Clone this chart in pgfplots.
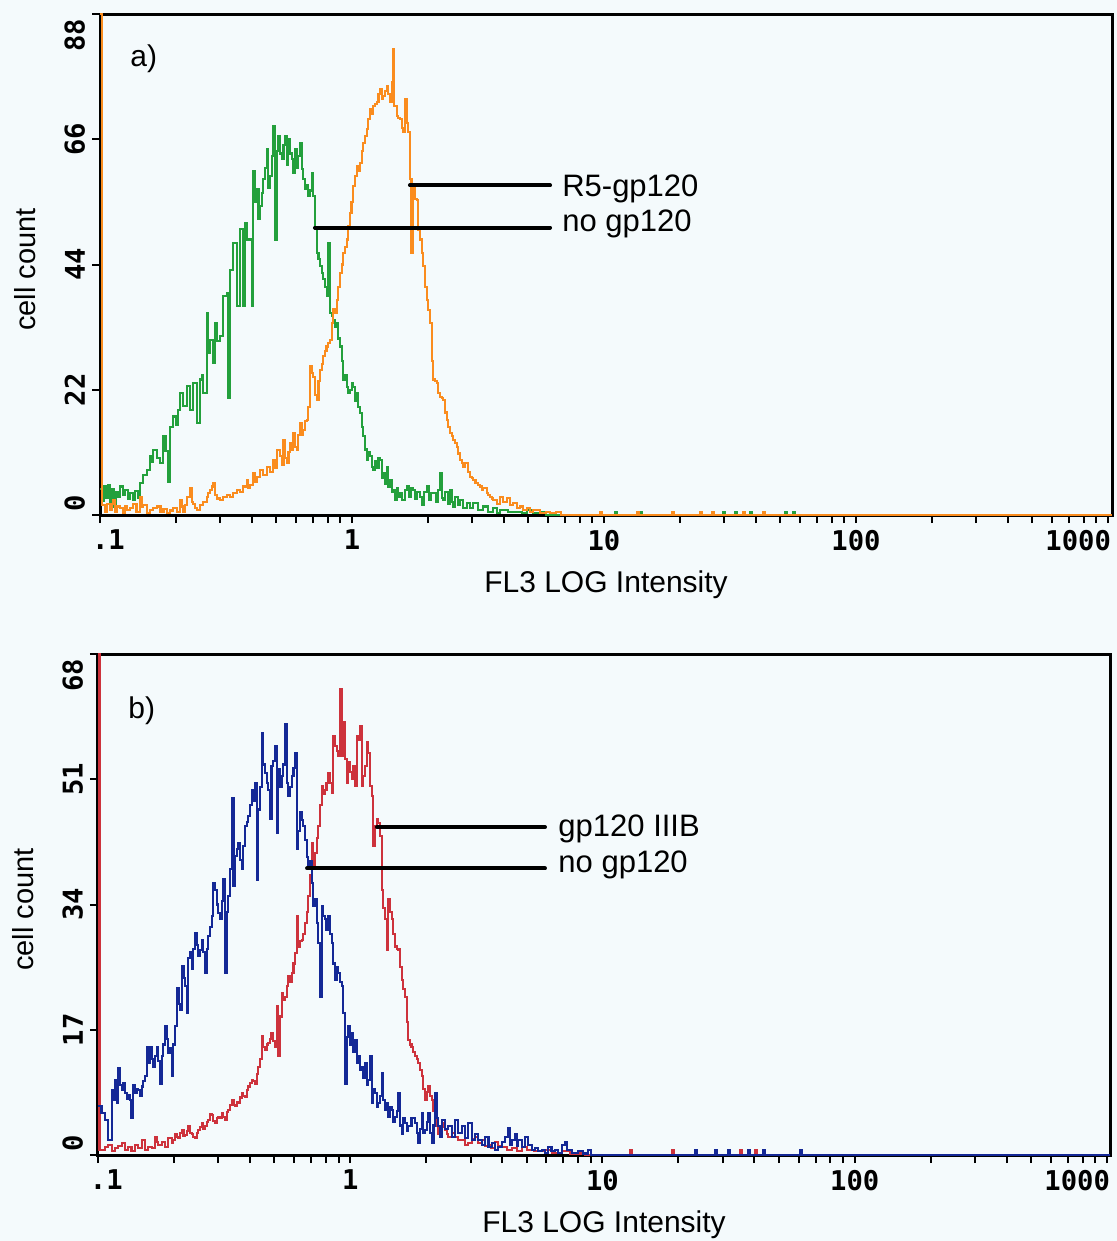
\documentclass[border=0pt]{standalone}
\usepackage{pgfplots}
\pgfplotsset{compat=1.18}
\usepackage{fontspec}
\setmainfont{Liberation Sans}
\newfontfamily\tickfont{DejaVu Sans Mono}
\definecolor{bg}{RGB}{244,250,252}
\definecolor{cgreen}{RGB}{35,160,60}
\definecolor{corange}{RGB}{250,140,30}
\definecolor{cblue}{RGB}{20,40,150}
\definecolor{cred}{RGB}{205,50,60}
\tikzset{
  annot/.style={font=\fontsize{15.5}{17}\selectfont, anchor=base west, inner sep=0pt},
  plab/.style={font=\fontsize{15}{16}\selectfont, anchor=base west, inner sep=0pt},
}
\pgfplotsset{flow/.style={
  scale only axis, width=506pt, height=250.5pt,
  xmin=-1, ymin=0, clip=false,
  axis line style={line width=1.5pt, black},
  xtick={-1,0,1,2,3},
  xticklabels={{\makebox[0pt][l]{\kern-4pt.1}},1,10,100,{\makebox[0pt][r]{1000\kern-1.5pt}}},
  minor xtick={-0.699,-0.523,-0.398,-0.301,-0.222,-0.155,-0.097,-0.046,
    0.301,0.477,0.602,0.699,0.778,0.845,0.903,0.954,
    1.301,1.477,1.602,1.699,1.778,1.845,1.903,1.954,
    2.301,2.477,2.602,2.699,2.778,2.845,2.903,2.954},
  xtick pos=bottom, ytick pos=left,
  tick align=outside, major tick length=4pt, minor tick length=4pt,
  tick style={line width=1pt, black},
  tick label style={font=\tickfont\bfseries\fontsize{13.6}{14}\selectfont},
  yticklabel style={rotate=90, anchor=south},
  xlabel={FL3 LOG Intensity},
  ylabel={cell count},
  xlabel style={font=\fontsize{15}{17}\selectfont, at={(axis description cs:0.5,-0.154)}, anchor=base},
  ylabel style={font=\fontsize{14.5}{16}\selectfont, at={(axis description cs:-0.074,0.49)}, anchor=center},
  every axis plot/.append style={const plot, no markers, line width=1.05pt},
}}
\begin{document}
\begin{tikzpicture}
\useasboundingbox (0pt,0pt) rectangle (558.5pt,-620.5pt);
\fill[bg] (0pt,0pt) rectangle (558.5pt,-620.5pt);
% ---------------- panel a ----------------
\begin{axis}[flow, at={(50pt,-257.5pt)}, anchor=south west, xmax=3.016, ymax=88,
  ytick={0,22,44,66,88},
  yticklabels={{\makebox[0pt][l]{\kern2pt 0}},22,44,66,{\makebox[0pt][r]{88\kern2.5pt}}}]
% no gp120 (green)
\addplot[cgreen] coordinates {(-1.000,4.5)(-0.992,2.5)(-0.984,5.0)(-0.976,3.0)(-0.968,5.2)(-0.960,2.0)(-0.952,4.6)(-0.944,1.5)(-0.936,4.0)(-0.928,3.2)(-0.920,5.0)(-0.910,3.5)(-0.900,4.4)(-0.890,2.8)(-0.880,3.8)(-0.870,2.6)(-0.860,4.2)(-0.850,3.0)(-0.841,5.6)(-0.828,7.0)(-0.815,7.9)(-0.802,10.3)(-0.795,9.4)(-0.788,11.4)(-0.775,10.0)(-0.762,9.1)(-0.749,13.8)(-0.740,11.2)(-0.729,5.8)(-0.722,15.5)(-0.709,17.3)(-0.700,15.9)(-0.690,18.5)(-0.683,21.4)(-0.669,19.1)(-0.656,22.6)(-0.643,18.5)(-0.630,23.2)(-0.616,16.1)(-0.603,23.8)(-0.595,24.5)(-0.590,21.4)(-0.577,35.5)(-0.570,28.5)(-0.563,30.8)(-0.550,26.7)(-0.543,33.7)(-0.537,30.5)(-0.524,31.4)(-0.511,38.4)(-0.497,39.0)(-0.491,20.5)(-0.484,43.1)(-0.471,47.8)(-0.458,36.7)(-0.444,50.2)(-0.431,36.7)(-0.424,51.3)(-0.418,48.4)(-0.405,48.4)(-0.398,36.7)(-0.392,60.4)(-0.385,55.0)(-0.378,57.2)(-0.371,52.0)(-0.365,54.3)(-0.358,56.5)(-0.352,59.0)(-0.345,61.0)(-0.339,64.2)(-0.332,57.5)(-0.325,59.5)(-0.318,63.0)(-0.312,68.3)(-0.306,48.4)(-0.299,64.0)(-0.292,66.6)(-0.285,63.5)(-0.279,62.5)(-0.272,65.0)(-0.266,66.6)(-0.259,61.5)(-0.253,66.0)(-0.246,63.5)(-0.239,62.5)(-0.232,60.0)(-0.226,64.2)(-0.219,61.0)(-0.213,63.0)(-0.206,65.4)(-0.200,60.7)(-0.193,59.0)(-0.187,57.2)(-0.180,58.0)(-0.173,56.0)(-0.166,57.0)(-0.160,60.1)(-0.153,56.0)(-0.147,50.2)(-0.140,46.1)(-0.133,45.0)(-0.127,43.7)(-0.120,42.5)(-0.114,41.4)(-0.107,40.0)(-0.100,38.5)(-0.094,47.8)(-0.087,35.5)(-0.080,35.0)(-0.074,34.3)(-0.067,33.0)(-0.061,33.7)(-0.054,31.0)(-0.048,29.6)(-0.041,27.0)(-0.034,23.8)(-0.028,24.5)(-0.021,22.5)(-0.015,21.4)(-0.008,22.0)(0.000,23.2)(0.005,22.5)(0.012,20.0)(0.019,21.4)(0.025,19.0)(0.032,17.9)(0.039,15.5)(0.045,13.8)(0.052,11.5)(0.058,9.7)(0.065,11.0)(0.071,10.3)(0.078,8.5)(0.085,7.9)(0.091,9.5)(0.098,8.2)(0.105,10.0)(0.111,9.7)(0.118,6.5)(0.124,7.3)(0.131,5.5)(0.138,8.5)(0.144,5.0)(0.151,6.2)(0.158,4.0)(0.164,4.4)(0.171,2.6)(0.177,4.8)(0.184,3.2)(0.190,3.8)(0.200,2.6)(0.210,4.4)(0.217,5.0)(0.225,3.2)(0.233,4.7)(0.243,4.4)(0.250,2.9)(0.258,4.1)(0.270,3.2)(0.278,1.8)(0.286,4.0)(0.296,5.0)(0.305,2.6)(0.315,3.8)(0.323,3.8)(0.332,2.3)(0.340,4.4)(0.349,7.3)(0.356,3.0)(0.362,2.6)(0.370,4.1)(0.380,2.0)(0.389,4.4)(0.396,2.3)(0.402,1.5)(0.410,3.2)(0.420,1.8)(0.429,2.6)(0.440,1.2)(0.455,2.1)(0.468,1.2)(0.481,2.1)(0.500,0.9)(0.521,1.5)(0.540,0.6)(0.561,1.2)(0.575,0.3)(0.587,0.9)(0.620,0.6)(0.653,0.6)(0.675,0.3)(0.693,0.9)(0.720,0.3)(0.746,0.6)(0.770,0)(1.044,0.6)(1.052,0)(1.143,0.6)(1.151,0)(1.472,0.6)(1.480,0)(1.520,0.6)(1.528,0)(1.579,0.6)(1.587,0)(1.718,0.6)(1.726,0)(1.750,0.6)(1.758,0)(3.016,0)};
% R5-gp120 (orange)
\addplot[corange] coordinates {(-1.000,88)(-0.993,1.8)(-0.987,1.8)(-0.980,0.6)(-0.973,2.0)(-0.960,0.9)(-0.953,2.0)(-0.947,2.6)(-0.940,0.6)(-0.933,1.5)(-0.921,1.2)(-0.910,0.3)(-0.900,1.5)(-0.894,0.9)(-0.880,1.2)(-0.868,2.0)(-0.855,0.6)(-0.841,3.2)(-0.835,1.5)(-0.828,1.8)(-0.815,0.3)(-0.802,0.9)(-0.790,1.2)(-0.775,1.5)(-0.760,0.6)(-0.748,1.0)(-0.735,0.3)(-0.722,0.8)(-0.709,1.2)(-0.696,0.6)(-0.683,2.6)(-0.676,1.5)(-0.669,0.6)(-0.662,1.8)(-0.656,3.2)(-0.643,4.7)(-0.636,2.3)(-0.630,2.0)(-0.623,1.2)(-0.616,0.9)(-0.603,1.8)(-0.590,2.3)(-0.577,3.2)(-0.570,3.8)(-0.563,4.4)(-0.556,5.0)(-0.550,5.6)(-0.543,3.5)(-0.537,2.9)(-0.524,2.6)(-0.511,3.2)(-0.497,3.5)(-0.484,3.2)(-0.471,3.8)(-0.458,4.4)(-0.444,4.1)(-0.431,5.0)(-0.418,6.2)(-0.411,4.7)(-0.405,5.3)(-0.392,7.3)(-0.385,5.8)(-0.378,6.7)(-0.365,7.9)(-0.352,7.0)(-0.339,8.5)(-0.325,7.6)(-0.312,9.7)(-0.305,8.2)(-0.299,11.4)(-0.286,10.3)(-0.279,8.8)(-0.272,13.2)(-0.266,10.0)(-0.259,9.1)(-0.252,11.0)(-0.246,12.6)(-0.239,11.5)(-0.233,14.4)(-0.226,12.0)(-0.220,11.4)(-0.213,14.0)(-0.206,16.1)(-0.200,14.0)(-0.193,15.0)(-0.187,16.5)(-0.180,16.7)(-0.173,19.0)(-0.167,26.1)(-0.160,25.0)(-0.153,24.3)(-0.147,21.0)(-0.140,20.2)(-0.133,23.5)(-0.127,25.5)(-0.120,26.5)(-0.114,27.9)(-0.107,28.8)(-0.101,29.6)(-0.094,30.2)(-0.087,30.8)(-0.080,33.7)(-0.074,36.1)(-0.067,35.5)(-0.061,37.8)(-0.054,40.0)(-0.048,42.5)(-0.041,44.0)(-0.034,46.1)(-0.028,47.0)(-0.021,48.4)(-0.015,50.7)(-0.008,53.1)(-0.002,55.0)(0.005,57.8)(0.012,59.5)(0.019,61.3)(0.025,60.5)(0.032,61.9)(0.039,64.0)(0.045,65.4)(0.052,66.5)(0.058,67.8)(0.065,69.5)(0.071,71.3)(0.078,70.5)(0.085,71.9)(0.091,72.2)(0.098,72.5)(0.105,74.0)(0.111,74.8)(0.118,73.0)(0.124,73.6)(0.131,74.5)(0.138,75.4)(0.144,74.0)(0.151,72.5)(0.157,76.0)(0.161,81.8)(0.166,71.9)(0.171,71.9)(0.177,70.1)(0.184,69.8)(0.190,69.5)(0.197,68.0)(0.204,67.2)(0.210,73.0)(0.217,68.9)(0.224,67.2)(0.230,59.0)(0.236,46.1)(0.241,57.8)(0.250,55.5)(0.257,55.4)(0.263,50.0)(0.270,48.4)(0.277,46.0)(0.283,43.7)(0.290,40.0)(0.296,37.8)(0.303,36.0)(0.310,33.7)(0.316,27.0)(0.323,23.8)(0.330,23.5)(0.336,23.2)(0.343,21.5)(0.349,20.8)(0.356,20.5)(0.362,20.2)(0.369,18.0)(0.376,16.7)(0.382,15.5)(0.389,14.4)(0.396,13.8)(0.402,13.2)(0.409,12.6)(0.415,12.0)(0.422,10.8)(0.429,9.7)(0.435,9.1)(0.442,8.5)(0.448,9.1)(0.455,9.1)(0.462,7.5)(0.468,6.7)(0.475,6.5)(0.481,6.2)(0.490,5.6)(0.500,5.3)(0.508,5.0)(0.515,4.4)(0.521,4.7)(0.534,3.8)(0.541,3.5)(0.548,3.2)(0.554,2.9)(0.561,2.6)(0.574,2.0)(0.587,3.2)(0.600,2.3)(0.614,3.0)(0.627,1.8)(0.640,2.1)(0.653,1.2)(0.667,1.5)(0.680,0.9)(0.693,1.2)(0.706,0.6)(0.720,0.9)(0.746,0.3)(0.770,0.6)(0.786,0.3)(0.810,0.5)(0.830,0)(0.984,0.6)(0.992,0)(1.130,0.6)(1.138,0)(1.270,0.6)(1.278,0)(1.380,0.6)(1.388,0)(1.430,0.6)(1.438,0)(1.550,0.6)(1.558,0)(1.630,0.6)(1.638,0)(3.016,0)};
\draw[line width=2pt, line cap=round] (axis cs:0.230,57.9) -- (axis cs:0.786,57.9);
\draw[line width=2pt, line cap=round] (axis cs:-0.147,50.5) -- (axis cs:0.786,50.5);
\node[annot] at (axis cs:0.833,56.0) {R5-gp120};
\node[annot] at (axis cs:0.833,49.8) {no gp120};
\node[plab] at (axis cs:-0.881,78.7) {a)};
\end{axis}
% ---------------- panel b ----------------
\begin{axis}[flow, at={(49pt,-577.5pt)}, anchor=south west, xmax=3.012, ymax=68,
  ytick={0,17,34,51,68},
  yticklabels={{\makebox[0pt][l]{\kern2pt 0}},17,34,51,{\makebox[0pt][r]{68\kern2.5pt}}}]
% gp120 IIIB (red)
\addplot[cred] coordinates {(-1.000,68)(-0.994,0.7)(-0.985,0.7)(-0.972,1.1)(-0.959,1.4)(-0.946,0.5)(-0.933,0.9)(-0.920,1.2)(-0.906,1.6)(-0.893,0.7)(-0.880,1.1)(-0.867,0.5)(-0.853,1.4)(-0.840,0.9)(-0.827,2.0)(-0.814,0.7)(-0.800,1.1)(-0.787,0.9)(-0.774,2.5)(-0.767,1.8)(-0.761,1.4)(-0.748,1.8)(-0.734,1.1)(-0.721,2.3)(-0.708,1.6)(-0.701,2.0)(-0.695,2.9)(-0.688,2.5)(-0.682,2.3)(-0.675,3.0)(-0.668,3.4)(-0.661,2.6)(-0.655,2.7)(-0.648,3.3)(-0.642,3.9)(-0.635,3.0)(-0.629,2.9)(-0.622,2.5)(-0.615,2.3)(-0.609,3.0)(-0.602,3.4)(-0.596,3.8)(-0.589,4.3)(-0.582,3.5)(-0.576,3.9)(-0.569,4.5)(-0.563,4.8)(-0.556,5.5)(-0.549,5.4)(-0.543,4.6)(-0.536,4.3)(-0.529,5.0)(-0.523,5.2)(-0.516,5.0)(-0.510,5.7)(-0.503,5.2)(-0.497,4.8)(-0.490,5.8)(-0.483,6.1)(-0.477,6.8)(-0.470,7.5)(-0.463,6.8)(-0.457,6.6)(-0.450,7.2)(-0.444,7.0)(-0.437,7.8)(-0.430,8.4)(-0.424,8.0)(-0.417,7.9)(-0.410,8.8)(-0.404,9.3)(-0.397,9.8)(-0.391,10.2)(-0.384,10.0)(-0.378,9.7)(-0.371,11.0)(-0.364,12.0)(-0.358,13.0)(-0.351,16.1)(-0.345,14.7)(-0.338,14.3)(-0.331,15.0)(-0.325,15.2)(-0.318,15.8)(-0.312,16.5)(-0.305,15.5)(-0.298,14.7)(-0.292,20.2)(-0.285,13.4)(-0.278,18.8)(-0.272,22.0)(-0.265,21.0)(-0.259,21.5)(-0.252,23.0)(-0.245,24.3)(-0.239,23.5)(-0.232,24.7)(-0.225,26.0)(-0.219,27.4)(-0.212,32.4)(-0.206,28.3)(-0.199,29.0)(-0.193,29.2)(-0.186,30.0)(-0.179,31.5)(-0.173,33.0)(-0.166,35.1)(-0.160,38.0)(-0.153,42.4)(-0.146,39.2)(-0.140,41.0)(-0.133,43.0)(-0.127,44.7)(-0.120,47.5)(-0.113,50.1)(-0.107,49.0)(-0.100,49.6)(-0.094,50.5)(-0.087,51.9)(-0.080,50.5)(-0.074,49.2)(-0.067,56.9)(-0.060,55.5)(-0.054,54.8)(-0.047,54.2)(-0.041,63.2)(-0.034,54.2)(-0.027,58.7)(-0.021,53.7)(-0.014,50.5)(-0.008,53.3)(-0.001,52.0)(0.006,51.0)(0.012,52.8)(0.019,50.1)(0.025,56.9)(0.032,56.4)(0.039,58.2)(0.045,50.1)(0.052,51.5)(0.058,52.8)(0.065,56.0)(0.072,54.6)(0.078,50.1)(0.085,48.7)(0.091,41.9)(0.098,44.7)(0.105,45.6)(0.111,45.1)(0.118,43.3)(0.125,36.0)(0.131,33.5)(0.138,32.0)(0.144,27.9)(0.151,34.7)(0.158,33.0)(0.164,32.0)(0.171,30.0)(0.177,28.3)(0.184,28.0)(0.191,27.9)(0.197,25.5)(0.204,23.8)(0.210,22.5)(0.217,21.5)(0.224,18.0)(0.230,15.6)(0.237,15.0)(0.243,14.7)(0.250,14.0)(0.257,13.4)(0.263,13.0)(0.270,12.5)(0.277,11.5)(0.283,10.7)(0.290,9.0)(0.296,7.5)(0.303,8.5)(0.310,9.3)(0.316,8.0)(0.323,7.5)(0.330,6.0)(0.336,5.2)(0.343,4.0)(0.349,2.9)(0.356,3.5)(0.362,4.3)(0.369,3.8)(0.376,3.4)(0.382,2.8)(0.389,2.5)(0.402,3.0)(0.415,2.5)(0.428,2.0)(0.442,2.0)(0.455,1.4)(0.468,1.6)(0.481,2.2)(0.495,2.5)(0.508,1.6)(0.521,2.0)(0.534,1.2)(0.547,1.4)(0.560,0.9)(0.574,1.8)(0.587,1.2)(0.600,1.1)(0.620,0.7)(0.640,0.9)(0.660,0.5)(0.680,1.1)(0.700,0.7)(0.730,0.5)(0.772,0.7)(0.800,0.3)(0.838,0.5)(0.870,0.2)(0.904,0.2)(0.930,0)(1.109,0.7)(1.117,0)(1.276,0.7)(1.284,0)(1.545,0.7)(1.553,0)(1.605,0.7)(1.613,0)(3.012,0)};
% no gp120 (blue)
\addplot[cblue] coordinates {(-1.000,6.6)(-0.986,5.7)(-0.972,4.8)(-0.959,2.0)(-0.946,8.8)(-0.939,7.5)(-0.933,10.2)(-0.926,7.0)(-0.919,11.8)(-0.913,9.5)(-0.906,8.8)(-0.899,9.8)(-0.893,8.4)(-0.886,7.6)(-0.880,8.2)(-0.873,7.5)(-0.867,5.0)(-0.860,9.5)(-0.853,8.4)(-0.847,9.0)(-0.840,8.8)(-0.834,8.0)(-0.827,9.3)(-0.820,10.0)(-0.814,10.7)(-0.807,14.7)(-0.800,12.5)(-0.794,14.7)(-0.787,13.0)(-0.781,12.0)(-0.774,13.5)(-0.767,14.7)(-0.761,12.8)(-0.754,9.7)(-0.748,13.4)(-0.741,15.0)(-0.734,17.5)(-0.728,15.8)(-0.721,13.8)(-0.714,14.5)(-0.708,10.7)(-0.701,15.0)(-0.695,17.5)(-0.688,22.7)(-0.681,20.5)(-0.675,19.7)(-0.668,25.6)(-0.661,24.0)(-0.655,22.9)(-0.648,19.3)(-0.642,26.7)(-0.635,27.5)(-0.629,25.2)(-0.622,28.0)(-0.615,30.1)(-0.609,28.5)(-0.602,27.0)(-0.596,27.8)(-0.589,29.2)(-0.582,27.5)(-0.576,24.7)(-0.569,28.0)(-0.563,29.7)(-0.556,31.0)(-0.549,32.4)(-0.543,36.9)(-0.536,36.0)(-0.529,34.0)(-0.523,32.9)(-0.516,32.0)(-0.510,34.5)(-0.503,37.4)(-0.497,24.7)(-0.490,33.0)(-0.483,35.1)(-0.477,38.8)(-0.470,48.5)(-0.463,36.5)(-0.457,40.6)(-0.450,41.5)(-0.444,42.4)(-0.437,40.0)(-0.430,38.8)(-0.424,42.0)(-0.417,44.7)(-0.410,45.2)(-0.404,46.0)(-0.397,47.5)(-0.391,49.6)(-0.384,48.0)(-0.378,50.5)(-0.371,37.4)(-0.364,46.9)(-0.358,50.0)(-0.351,57.3)(-0.345,53.0)(-0.338,51.9)(-0.331,50.5)(-0.325,49.6)(-0.318,45.6)(-0.312,52.8)(-0.305,53.5)(-0.298,55.5)(-0.292,43.7)(-0.285,52.4)(-0.278,50.0)(-0.272,51.4)(-0.265,53.0)(-0.259,58.5)(-0.252,50.5)(-0.245,48.7)(-0.239,50.0)(-0.232,51.4)(-0.225,52.5)(-0.219,54.6)(-0.212,41.5)(-0.206,44.0)(-0.199,46.5)(-0.193,45.5)(-0.186,44.7)(-0.179,42.8)(-0.173,40.5)(-0.166,39.2)(-0.160,39.9)(-0.153,36.9)(-0.146,33.8)(-0.140,34.7)(-0.133,31.5)(-0.127,28.8)(-0.120,21.5)(-0.113,33.8)(-0.107,32.5)(-0.100,32.0)(-0.094,30.5)(-0.087,32.4)(-0.080,30.0)(-0.074,28.8)(-0.067,26.0)(-0.060,23.8)(-0.054,25.5)(-0.047,24.7)(-0.040,23.5)(-0.034,22.9)(-0.027,19.3)(-0.021,9.7)(-0.014,16.0)(-0.008,17.5)(-0.001,15.0)(0.006,16.5)(0.012,14.0)(0.019,15.6)(0.025,12.5)(0.032,13.4)(0.039,11.5)(0.045,12.0)(0.052,10.5)(0.058,12.5)(0.065,9.5)(0.072,10.2)(0.078,13.4)(0.085,7.0)(0.091,9.0)(0.098,8.4)(0.105,6.5)(0.111,7.0)(0.118,8.0)(0.125,11.1)(0.131,7.5)(0.138,6.1)(0.144,7.0)(0.151,5.2)(0.158,6.5)(0.164,6.1)(0.171,4.5)(0.177,5.2)(0.184,6.0)(0.191,8.4)(0.197,4.0)(0.204,2.9)(0.210,5.0)(0.217,4.3)(0.224,3.2)(0.230,3.9)(0.243,5.0)(0.257,4.3)(0.263,3.0)(0.270,1.6)(0.277,3.5)(0.283,5.7)(0.290,3.0)(0.296,3.4)(0.303,4.5)(0.310,5.7)(0.316,3.0)(0.323,1.6)(0.330,4.0)(0.336,8.4)(0.343,5.0)(0.349,3.9)(0.356,2.5)(0.362,4.8)(0.376,3.5)(0.389,3.9)(0.402,2.5)(0.415,4.8)(0.428,3.0)(0.442,3.9)(0.455,2.3)(0.468,4.3)(0.481,2.0)(0.495,2.9)(0.508,2.0)(0.521,1.4)(0.534,2.5)(0.548,1.1)(0.561,1.6)(0.574,0.7)(0.587,1.1)(0.600,1.8)(0.613,2.5)(0.627,3.6)(0.634,1.4)(0.640,2.0)(0.653,2.9)(0.660,1.2)(0.666,2.0)(0.680,1.1)(0.693,2.5)(0.706,1.4)(0.719,0.7)(0.732,0.9)(0.746,0.5)(0.759,0.7)(0.772,0.3)(0.785,1.1)(0.798,0.5)(0.812,0.7)(0.825,0.3)(0.838,1.4)(0.851,1.8)(0.858,0.7)(0.878,0.3)(0.904,0.5)(0.924,0.2)(0.944,0.7)(0.954,0)(1.367,0.7)(1.375,0)(1.446,0.7)(1.454,0)(1.498,0.7)(1.506,0)(1.577,0.7)(1.585,0)(1.637,0.7)(1.645,0)(1.784,0.7)(1.792,0)(3.012,0)};
\draw[line width=2pt, line cap=round] (axis cs:0.106,44.5) -- (axis cs:0.772,44.5);
\draw[line width=2pt, line cap=round] (axis cs:-0.171,38.9) -- (axis cs:0.772,38.9);
\node[annot] at (axis cs:0.824,43.2) {gp120 IIIB};
\node[annot] at (axis cs:0.824,38.4) {no gp120};
\node[plab] at (axis cs:-0.881,59.2) {b)};
\end{axis}
\end{tikzpicture}
\end{document}
